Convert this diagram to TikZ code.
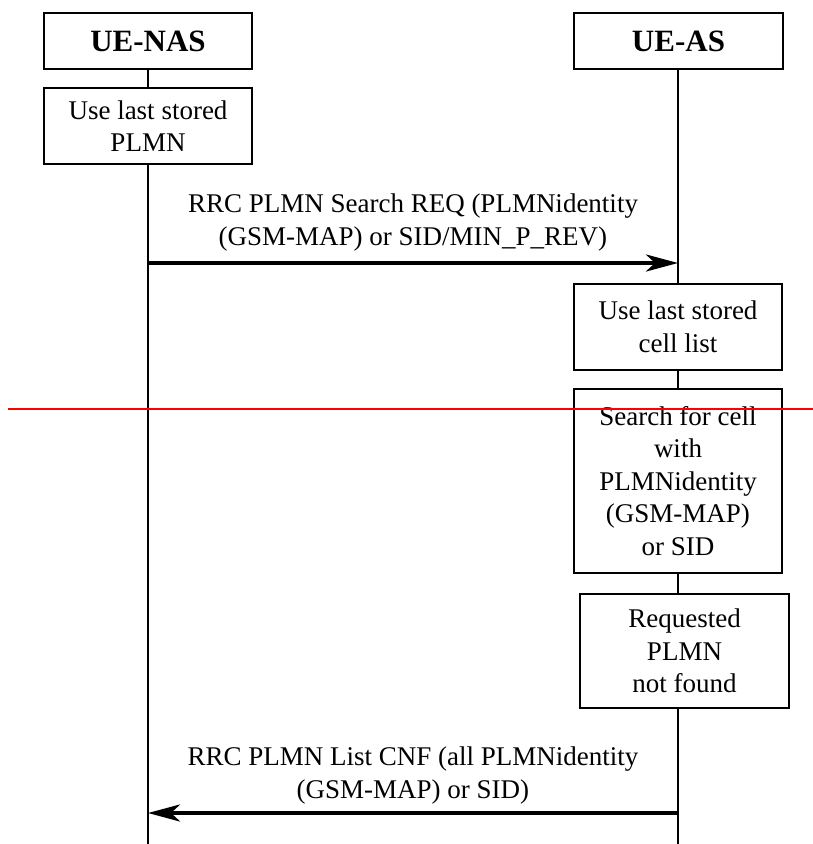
\documentclass[tikz,border=0pt]{standalone}
\usepackage{fontspec}
\setmainfont{Liberation Serif}
\usetikzlibrary{arrows.meta}
\begin{document}
\begin{tikzpicture}[x=1pt,y=-1pt,
  box/.style={draw, line width=1.5pt, fill=white, align=center, inner sep=0pt,
    font=\fontsize{27}{32.5}\selectfont},
  hdr/.style={box, font=\fontsize{31}{36}\selectfont\bfseries},
  life/.style={line width=1.5pt},
  msg/.style={line width=4pt, -{Stealth[length=32pt,width=17pt,inset=9pt]}},
  lbl/.style={align=center, inner sep=0pt, font=\fontsize{27}{33}\selectfont}]
\useasboundingbox (0,0) rectangle (813,844);
% headers
\node[hdr, minimum width=208pt, minimum height=56pt] (nas) at (148,41) {UE-NAS};
\node[hdr, minimum width=209pt, minimum height=56pt] (as) at (678.5,41) {UE-AS};
% action boxes
\node[box, minimum width=208pt, minimum height=76pt] (plmn) at (148,126) {Use last stored\\PLMN};
\node[box, minimum width=208pt, minimum height=86pt] (cell) at (678,327) {Use last stored\\cell list};
\node[box, minimum width=208pt, minimum height=184pt] (search) at (678,481) {Search for cell\\with\\PLMNidentity\\(GSM-MAP)\\or SID};
\node[box, minimum width=209pt, minimum height=114pt] (nf) at (684.5,651) {Requested\\PLMN\\not found};
% lifeline coordinates
\coordinate (nasend) at (148,844);
\coordinate (asend) at (678,844);
\coordinate (nftop) at (678,594);
\coordinate (nfbot) at (678,708);
% lifelines
\draw[life] (nas.south) -- (plmn.north);
\draw[life] (plmn.south) -- (nasend);
\draw[life] (678,69) -- (cell.north);
\draw[life] (cell.south) -- (search.north);
\draw[life] (search.south) -- (nftop);
\draw[life] (nfbot) -- (asend);
% messages
\coordinate (m1s) at (148,263);
\coordinate (m1e) at (678,263);
\draw[msg] (m1s) -- (m1e);
\node[lbl] (l1) at (413,223) {RRC PLMN Search REQ (PLMNidentity\\(GSM-MAP) or SID/MIN\_P\_REV)};
\coordinate (m2s) at (678,813);
\coordinate (m2e) at (148,813);
\draw[msg] (m2s) -- (m2e);
\node[lbl] (l2) at (413,775) {RRC PLMN List CNF (all PLMNidentity\\(GSM-MAP) or SID)};
% red line
\coordinate (r1) at (8,409);
\coordinate (r2) at (813,409);
\draw[red, line width=2pt] (r1) -- (r2);
\end{tikzpicture}
\end{document}
